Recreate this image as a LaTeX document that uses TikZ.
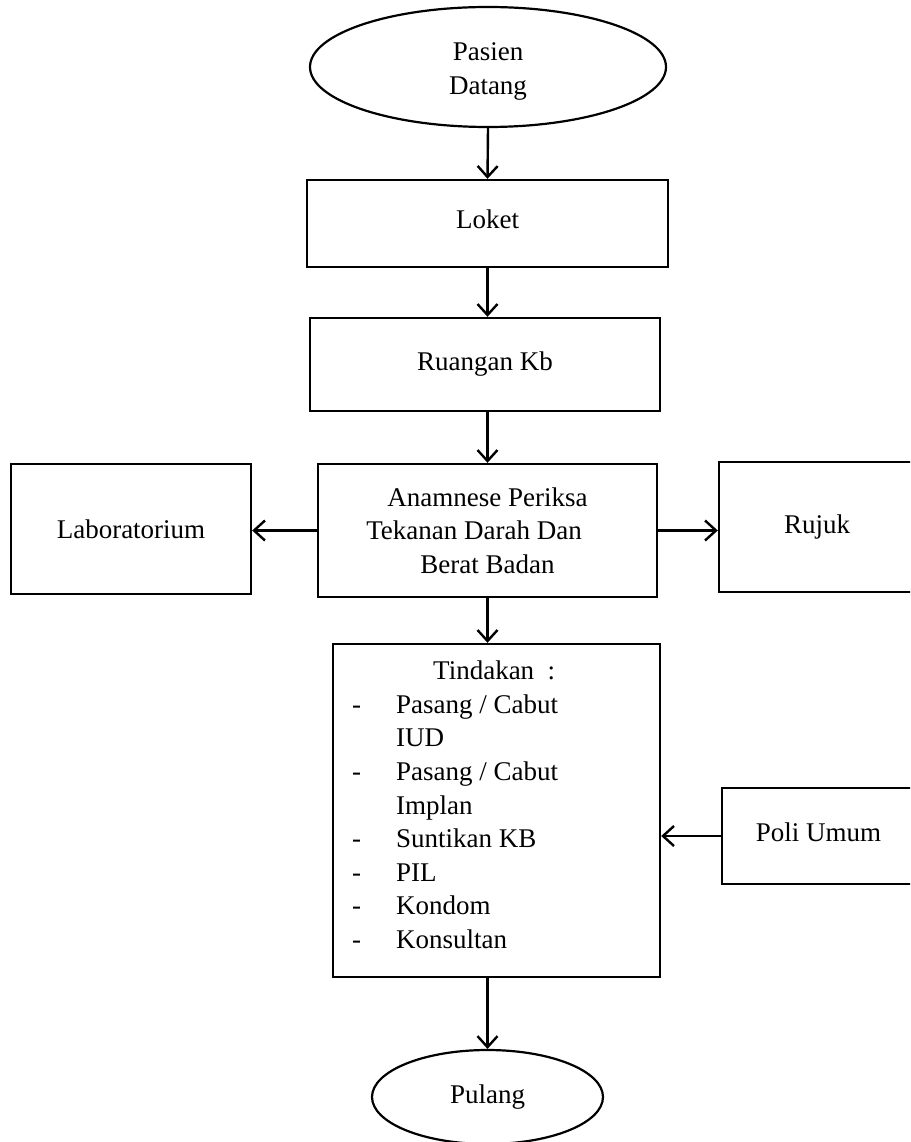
\documentclass[tikz,border=0pt]{standalone}
\usepackage{fontspec}
\setmainfont{Liberation Serif}
\usetikzlibrary{shapes.geometric,arrows.meta}
\newcommand{\shiftv}[2]{\raisebox{#1}[\height][\depth]{#2}}
\begin{document}
\begin{tikzpicture}[x=1pt,y=-1pt,
  txtfont/.style={font=\fontsize{27}{33.6}\selectfont},
  box/.style={draw, line width=2.4pt, rectangle, inner sep=0pt, align=center, txtfont},
  oval/.style={draw, line width=2.2pt, ellipse, inner sep=0pt, align=center, txtfont},
  arr/.style={line width=2.4pt, -{Straight Barb[length=11pt,width=20pt,line width=2.4pt]}}]
\useasboundingbox (0,0) rectangle (910,1142);
\clip (0,0) rectangle (910,1142);
\fill[white] (0,0) rectangle (910,1142);

\node[oval, minimum width=356pt, minimum height=120pt] (pd) at (488,67) {\shiftv{-4pt}{\begin{tabular}{@{}c@{}}Pasien\\Datang\end{tabular}}};
\node[box, minimum width=361pt, minimum height=87pt] (lok) at (487.5,223.5) {\shiftv{4pt}{Loket}};
\node[box, minimum width=350pt, minimum height=93pt] (rkb) at (485,364.5) {Ruangan Kb};
\node[box, minimum width=339pt, minimum height=133pt] (anam) at (487.5,530.5) {Anamnese Periksa\\Tekanan Darah Dan\phantom{xx}\\Berat Badan};
\node[box, minimum width=240pt, minimum height=130pt] (lab) at (131,529) {Laboratorium};
\node[box, minimum width=196pt, minimum height=130pt] (rujuk) at (817,527) {Rujuk};
\node[box, minimum width=327pt, minimum height=333pt] (tind) at (496.5,810.5) {};
\node[anchor=north west, inner sep=0pt, align=left, txtfont] (tindtxt) at (352,656) {\begin{tabular}{@{}p{44pt}@{}l@{}}\multicolumn{2}{@{}l@{}}{\hspace{81pt}Tindakan\ \ :}\\ -&Pasang / Cabut\\ &IUD\\ -&Pasang / Cabut\\ &Implan\\ -&Suntikan KB\\ -&PIL\\ -&Kondom\\ -&Konsultan\end{tabular}};
\node[box, minimum width=193pt, minimum height=96pt] (poli) at (818.5,836) {\shiftv{4pt}{Poli Umum}};
\node[oval, minimum width=231pt, minimum height=94pt] (pul) at (487.5,1097) {Pulang};

\draw[arr] (pd.south) -- (lok.north);
\draw[arr] (lok.south) -- (lok.south |- rkb.north);
\draw[arr] (lok.south |- rkb.south) -- (lok.south |- anam.north);
\draw[arr] (anam.south) -- (anam.south |- tind.north);
\draw[arr] (anam.west) -- (anam.west -| lab.east);
\draw[arr] (anam.east) -- (anam.east -| rujuk.west);
\draw[arr] (poli.west) -- (poli.west -| tind.east);
\draw[arr] (pul.north |- tind.south) -- (pul.north);
\end{tikzpicture}
\end{document}
